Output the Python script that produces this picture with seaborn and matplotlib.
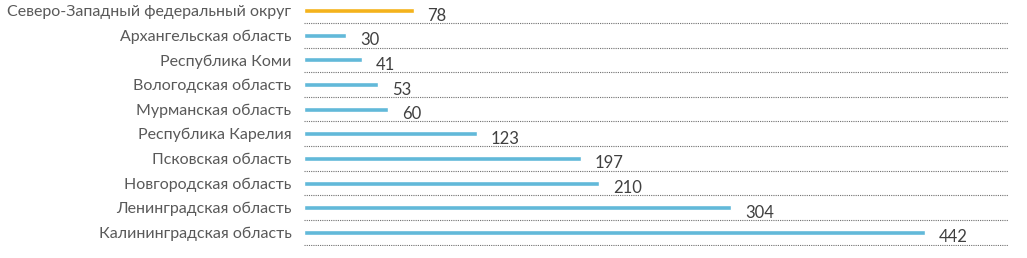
import pandas as pd  # table for seaborn
import matplotlib
matplotlib.use("Agg")
import matplotlib.pyplot as plt
import seaborn as sns

# data
regions = [
    "Северо-Западный федеральный округ",
    "Архангельская область",
    "Республика Коми",
    "Вологодская область",
    "Мурманская область",
    "Республика Карелия",
    "Псковская область",
    "Новгородская область",
    "Ленинградская область",
    "Калининградская область",
]
values = [78, 30, 41, 53, 60, 123, 197, 210, 304, 442]
groups = ["total"] + ["region"] * 9
palette = {"total": "#F4B31C", "region": "#62B9D9"}

df = pd.DataFrame({"region": regions, "value": values, "group": groups})

sns.set_theme(style="white")
plt.rcParams['font.family'] = ['Lato', 'DejaVu Sans']

fig = plt.figure(figsize=(10.27, 2.58), dpi=100)
ax = fig.add_axes([0.296, 0.047, 0.6855, 0.953])

sns.barplot(data=df, y="region", x="value", hue="group", palette=palette,
            orient="h", width=0.2, dodge=False, legend=False, saturation=1, ax=ax)

ax.set_xlim(0, 501)
ax.set_ylim(9.55, -0.43)
ax.set_xlabel("")
ax.set_ylabel("")
ax.set_xticks([])

# dotted separators between the rows
ax.set_yticks([i + 0.5 for i in range(len(regions))], minor=True)
ax.grid(which="minor", axis="y", color="#6f6f6f", linestyle=(0, (1, 1)), linewidth=0.8)
ax.tick_params(axis="y", which="both", length=0, pad=9, labelsize=11.5, labelcolor="#595959")

for s in ax.spines.values():
    s.set_visible(False)

# value labels to the right of each bar, a bit below its centre
for i, v in enumerate(values):
    ax.annotate(str(v), xy=(v, i), xytext=(10, -3.6), textcoords="offset points",
                ha="left", va="center", fontsize=12, color="#404040")

fig.savefig("out.png", dpi=100)
